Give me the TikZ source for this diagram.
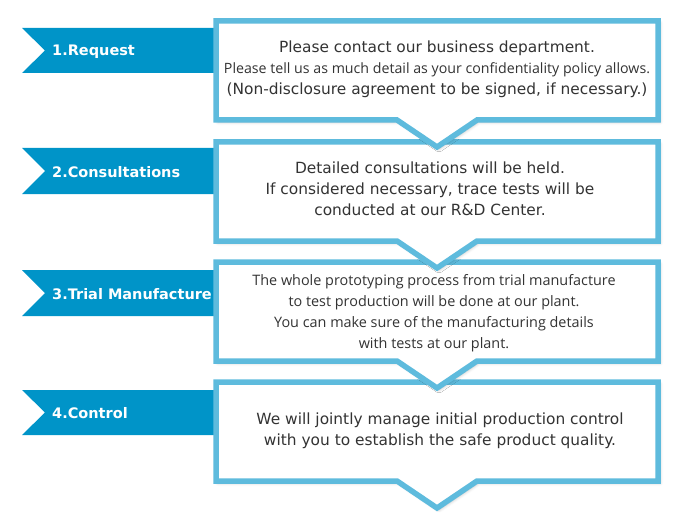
\documentclass[tikz,border=0pt]{standalone}
\usepackage{fontspec}
\setmainfont{DejaVu Sans}
\newfontfamily\narrowfont{Open Sans}
\usetikzlibrary{shadows.blur}
\definecolor{framecyan}{HTML}{5EBBDD}
\definecolor{tabblue}{HTML}{0094C8}
\definecolor{bodygray}{HTML}{333333}
\begin{document}
\begin{tikzpicture}[x=1pt, y=-1pt,
    stepframe/.style={draw=framecyan, fill=white, line width=5.5pt, line join=miter,
      blur shadow={shadow xshift=2pt, shadow yshift=-2pt, shadow blur radius=3pt, shadow opacity=25}},
    steptab/.style={fill=tabblue},
    tablabel/.style={anchor=base west, text=white, inner sep=0pt, font=\bfseries\fontsize{14.5}{18}\selectfont},
    bodytext/.style={align=center, text=bodygray, font=\fontsize{15.4}{21}\selectfont}]
    \useasboundingbox (0,0) rectangle (680,532);

    % Tabs on the left (drawn first, they run under the frames)
    \fill[steptab] (22,28) -- (216,28) -- (216,73) -- (22,73) -- (45,50.5) -- cycle;
    \fill[steptab] (22,148) -- (216,148) -- (216,194) -- (22,194) -- (45,171) -- cycle;
    \fill[steptab] (22,270) -- (216,270) -- (216,316) -- (22,316) -- (45,293) -- cycle;
    \fill[steptab] (22,390) -- (216,390) -- (216,435) -- (22,435) -- (45,412.5) -- cycle;
    \node[tablabel] (tab1) at (52,56) {1.Request};
    \node[tablabel] (tab2) at (52,177) {2.Consultations};
    \node[tablabel] (tab3) at (52,299) {3.Trial Manufacture};
    \node[tablabel] (tab4) at (52,418) {4.Control};

    % Step 4: Control (bottom frame first, so the notch above sits on top)
    \draw[stepframe] (216,382) -- (658,382) -- (658,481) -- (477,481) -- (437,508) -- (397,481) -- (216,481) -- cycle;
    \node[bodytext] (body4) at (440,431) {We will jointly manage initial production control\\with you to establish the safe product quality.};

    % Step 3: Trial Manufacture
    \draw[stepframe] (216,262) -- (658,262) -- (658,361) -- (477,361) -- (437,388) -- (397,361) -- (216,361) -- cycle;
    \node[bodytext, font=\narrowfont\fontsize{14.4}{21}\selectfont] (body3) at (434,313) {The whole prototyping process from trial manufacture\\to test production will be done at our plant.\\You can make sure of the manufacturing details\\with tests at our plant.};

    % Step 2: Consultations
    \draw[stepframe] (216,142) -- (658,142) -- (658,241) -- (477,241) -- (437,268) -- (397,241) -- (216,241) -- cycle;
    \node[bodytext] (body2) at (430,189) {Detailed consultations will be held.\\If considered necessary, trace tests will be\\conducted at our R\&D Center.};

    % Step 1: Request (top frame last)
    \draw[stepframe] (216,21) -- (658,21) -- (658,120) -- (477,120) -- (437,147) -- (397,120) -- (216,120) -- cycle;
    \node[bodytext] (body1) at (437,69) {Please contact our business department.\\{\narrowfont\fontsize{14.2}{21}\selectfont Please tell us as much detail as your confidentiality policy allows.}\\(Non-disclosure agreement to be signed, if necessary.)};
\end{tikzpicture}
\end{document}
